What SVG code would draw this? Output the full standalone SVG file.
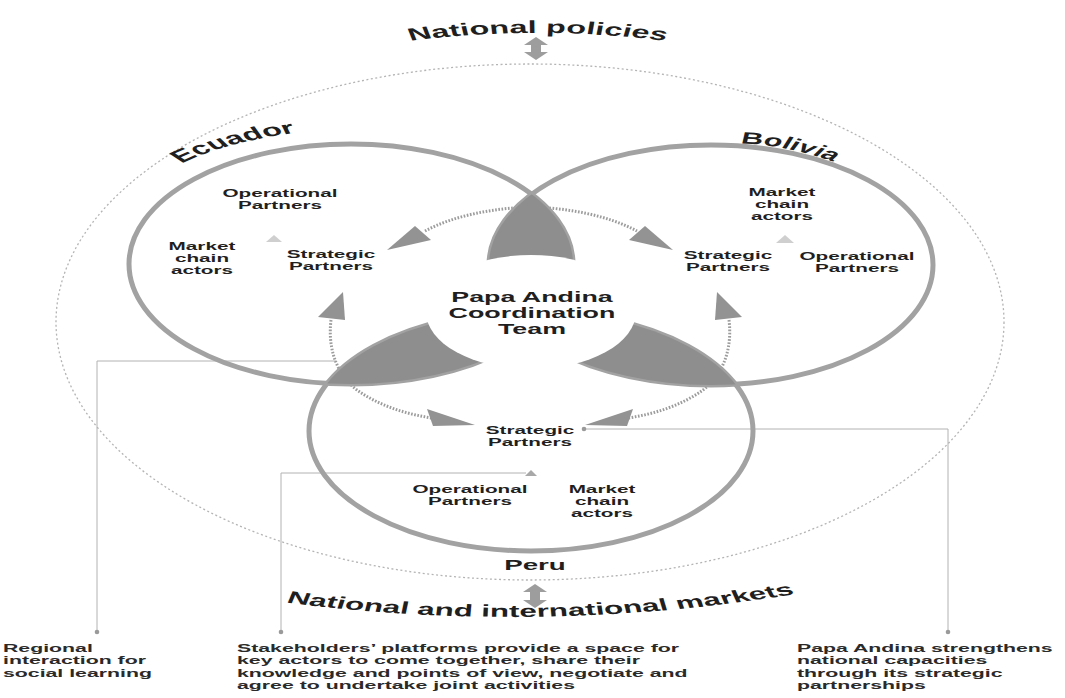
<svg xmlns="http://www.w3.org/2000/svg" width="1065" height="698" viewBox="0 0 1065 698">
<style>
 .ring{fill:none;stroke:#a2a2a2;stroke-width:5}
 .wedge{fill:#8e8e8e}
 .arr{fill:#939393}
 .dotted{fill:none;stroke:#9c9c9c;stroke-width:3;stroke-dasharray:1.6 1.6}
 .outer{fill:none;stroke:#b4b4b4;stroke-width:1.3;stroke-dasharray:2 2.5}
 .conn{fill:none;stroke:#b2b2b2;stroke-width:1}
 .pt{fill:#9a9a9a}
 .tri{fill:#cfcfcf}
 .dbl{fill:#9d9d9d}
 text{font-family:"Liberation Sans",Arial,sans-serif;font-weight:bold;fill:#1f1f1f}
 .lbl{font-size:11.2px;text-anchor:middle}
 .ctr{font-size:14.5px;text-anchor:middle}
 .big{font-size:17.5px}
 .note{font-size:11.5px;fill:#2a2a2a}
</style>
<defs>
 <clipPath id="cE"><ellipse cx="351" cy="264" rx="222" ry="120"/></clipPath>
 <clipPath id="cB"><ellipse cx="711" cy="265" rx="222" ry="120"/></clipPath>
 <path id="pTop" d="M 204.1,45.5 A 349,404 0 0 1 377.3,45.5"/>
 <path id="pBot" d="M 129.7,596 A 605,700 0 0 0 454.1,586"/>
 <path id="pEc" d="M 86.49,176 Q 116.22,140 172.97,130"/>
 <path id="pBo" d="M 389.19,144 Q 421.62,140 459.46,168"/>
</defs>
<rect width="1065" height="698" fill="#ffffff"/>

<g id="frame">
 <ellipse class="outer" cx="530" cy="322" rx="474" ry="258"/>
 <polygon class="dbl" points="536,37 548,45 541,45 541,52 548,52 536,60 524,52 531,52 531,45 524,45"/>
 <polygon class="dbl" points="535,584 547,592 540,592 540,600 547,600 535,608 523,600 530,600 530,592 523,592"/>
 <g transform="scale(1.85 1)">
  <text class="big"><textPath href="#pTop" startOffset="50%" text-anchor="middle">National policies</textPath></text>
  <text class="big" style="font-size:17px"><textPath href="#pBot" startOffset="50%" text-anchor="middle">National and international markets</textPath></text>
 </g>
</g>

<g id="connectors">
 <polyline class="conn" points="336,361 97,361 97,632"/>
 <polyline class="conn" points="526,473 281,473 281,632"/>
 <polyline class="conn" points="584,429 948,429 948,632"/>
 <circle class="pt" cx="97" cy="632" r="2.3"/>
 <circle class="pt" cx="281" cy="632" r="2.3"/>
 <circle class="pt" cx="948" cy="632" r="2.3"/>
 <circle class="pt" cx="584" cy="429" r="2.3"/>
 <path class="dotted" d="M 425,231 C 455,215 495,208 531,207 C 567,208 607,215 637,231"/>
 <path class="dotted" d="M 331,320 C 328,345 334,372 357,390 C 378,405 405,414 432,418"/>
 <path class="dotted" d="M 729,320 C 732,345 726,372 703,390 C 682,405 655,414 628,418"/>
 <polygon class="arr" points="387,250 415,226 431,240"/>
 <polygon class="arr" points="673,250 645,226 629,240"/>
 <polygon class="arr" points="343,292 345,320 318,317"/>
 <polygon class="arr" points="717,292 715,320 742,317"/>
 <polygon class="arr" points="427,409 433,426 475,425"/>
 <polygon class="arr" points="633,409 627,426 585,425"/>
</g>

<g id="ecuador">
 <ellipse class="ring" cx="351" cy="264" rx="222" ry="120"/>
 <polygon class="tri" points="266,242 282,242 274,235"/>
</g>
<g id="bolivia">
 <ellipse class="ring" cx="711" cy="265" rx="222" ry="120"/>
 <polygon class="tri" points="776,243 794,243 785,235"/>
</g>
<g id="peru">
 <ellipse class="ring" cx="531" cy="431" rx="222" ry="120"/>
 <polygon points="525,476 537,476 531,470" fill="#a8a8a8"/>
</g>

<g id="overlaps">
 <g clip-path="url(#cE)"><ellipse class="wedge" cx="711" cy="265" rx="222" ry="120"/></g>
 <g clip-path="url(#cE)"><ellipse class="wedge" cx="531" cy="431" rx="222" ry="120"/></g>
 <g clip-path="url(#cB)"><ellipse class="wedge" cx="531" cy="431" rx="222" ry="120"/></g>
 <ellipse cx="531" cy="312" rx="105" ry="57" fill="#ffffff"/>
</g>

<g id="labels" transform="scale(1.85 1)">
 <g id="ecuador-labels">
  <text class="big"><textPath href="#pEc" startOffset="52%" text-anchor="middle">Ecuador</textPath></text>
  <text class="lbl" x="151.35" y="197">Operational</text>
  <text class="lbl" x="151.35" y="209">Partners</text>
  <text class="lbl" x="109.19" y="250">Market</text>
  <text class="lbl" x="109.19" y="262">chain</text>
  <text class="lbl" x="109.19" y="274">actors</text>
  <text class="lbl" x="178.92" y="258">Strategic</text>
  <text class="lbl" x="178.92" y="270">Partners</text>
 </g>
 <g id="bolivia-labels">
  <text class="big" style="font-size:16.5px"><textPath href="#pBo" startOffset="50%" text-anchor="middle">Bolivia</textPath></text>
  <text class="lbl" x="422.7" y="196">Market</text>
  <text class="lbl" x="422.7" y="208">chain</text>
  <text class="lbl" x="422.7" y="220">actors</text>
  <text class="lbl" x="393.51" y="259">Strategic</text>
  <text class="lbl" x="393.51" y="271">Partners</text>
  <text class="lbl" x="463.24" y="260">Operational</text>
  <text class="lbl" x="463.24" y="272">Partners</text>
 </g>
 <g id="center">
  <text class="ctr" x="287.57" y="302">Papa Andina</text>
  <text class="ctr" x="287.57" y="318">Coordination</text>
  <text class="ctr" x="287.57" y="334">Team</text>
 </g>
 <g id="peru-labels">
  <text class="lbl" x="286.49" y="434">Strategic</text>
  <text class="lbl" x="286.49" y="446">Partners</text>
  <text class="lbl" x="254.05" y="493">Operational</text>
  <text class="lbl" x="254.05" y="505">Partners</text>
  <text class="lbl" x="325.41" y="493">Market</text>
  <text class="lbl" x="325.41" y="505">chain</text>
  <text class="lbl" x="325.41" y="517">actors</text>
  <text x="289.19" y="570" style="font-size:15px;text-anchor:middle">Peru</text>
 </g>
 <g id="note-regional">
  <text class="note" x="1.62" y="652">Regional</text>
  <text class="note" x="1.62" y="664.3">interaction for</text>
  <text class="note" x="1.62" y="676.6">social learning</text>
 </g>
 <g id="note-platforms">
  <text class="note" x="128.11" y="652">Stakeholders’ platforms provide a space for</text>
  <text class="note" x="128.11" y="664.3">key actors to come together, share their</text>
  <text class="note" x="128.11" y="676.6">knowledge and points of view, negotiate and</text>
  <text class="note" x="128.11" y="688.9">agree to undertake joint activities</text>
 </g>
 <g id="note-capacities">
  <text class="note" x="430.81" y="652">Papa Andina strengthens</text>
  <text class="note" x="430.81" y="664.3">national capacities</text>
  <text class="note" x="430.81" y="676.6">through its strategic</text>
  <text class="note" x="430.81" y="688.9">partnerships</text>
 </g>
</g>
</svg>
